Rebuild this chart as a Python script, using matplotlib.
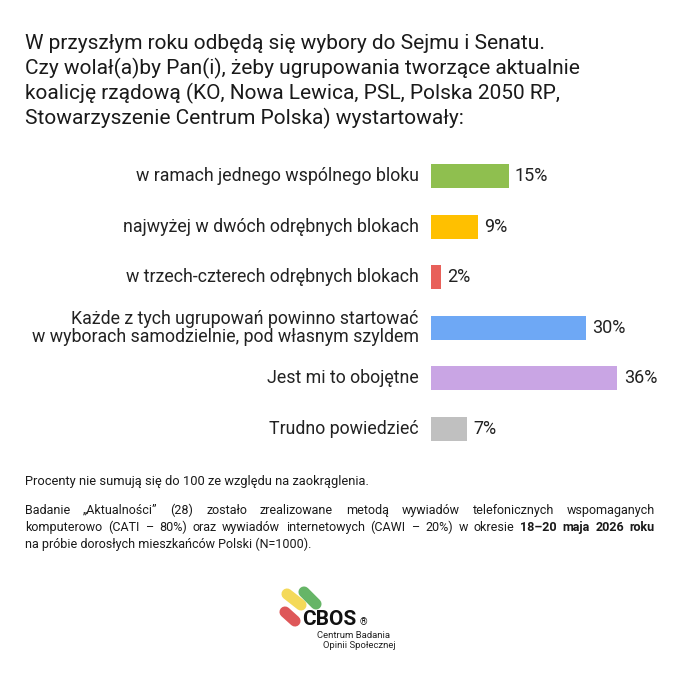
import matplotlib.pyplot as plt
import numpy as np

plt.rcParams['font.family'] = ['Roboto', 'DejaVu Sans']

title_lines = [
    "W przyszłym roku odbędą się wybory do Sejmu i Senatu.",
    "Czy wolał(a)by Pan(i), żeby ugrupowania tworzące aktualnie",
    "koalicję rządową (KO, Nowa Lewica, PSL, Polska 2050 RP,",
    "Stowarzyszenie Centrum Polska) wystartowały:",
]
categories = [
    "w ramach jednego wspólnego bloku",
    "najwyżej w dwóch odrębnych blokach",
    "w trzech-czterech odrębnych blokach",
    "Każde z tych ugrupowań powinno startować\nw wyborach samodzielnie, pod własnym szyldem",
    "Jest mi to obojętne",
    "Trudno powiedzieć",
]
values = [15, 9, 2, 30, 36, 7]
colors = ["#8fbf4f", "#ffc000", "#e8605a", "#6ea8f5", "#c9a5e4", "#c0c0c0"]

note = "Procenty nie sumują się do 100 ze względu na zaokrąglenia."
method_lines = [
    "Badanie „Aktualności” (28) zostało zrealizowane metodą wywiadów telefonicznych wspomaganych",
    "komputerowo (CATI – 80%) oraz wywiadów internetowych (CAWI – 20%) w okresie",
    "na próbie dorosłych mieszkańców Polski (N=1000).",
]
method_bold = "18–20 maja 2026 roku"

W, H = 680, 679
fig = plt.figure(figsize=(W / 100, H / 100), dpi=100)
fig.patch.set_facecolor("white")

# bar axes in pixel coordinates: x 431 = 0%, 5.18 px per %
x0_px = 431
px_per = 5.18
ax_w = 40 * px_per
y_top, y_bot = 151, 454
ax = fig.add_axes([x0_px / W, 1 - y_bot / H, ax_w / W, (y_bot - y_top) / H])
y = np.arange(len(values))
ax.barh(y, values, height=0.48, color=colors)
ax.set_xlim(0, 40)
ax.set_ylim(len(values) - 0.5, -0.5)
ax.axis("off")
for yi, v, lab in zip(y, values, categories):
    ax.text(v + 1.2, yi, f"{v}%", va="center", ha="left", fontsize=13, color="#222222")
    ax.text(-2.4, yi, lab, va="center", ha="right", fontsize=12.8, color="#222222",
            linespacing=1.0)


def px(x, y):
    return x / W, 1 - y / H


for i, line in enumerate(title_lines):
    fig.text(*px(25, 49 + i * 25), line, fontsize=15, color="#1a1a1a", va="baseline")

fig.text(*px(25, 485), note, fontsize=9.3, color="#1a1a1a", va="baseline")

# justified method text
fig.canvas.draw()
renderer = fig.canvas.get_renderer()
left, right = 25, 655


def word_width(w, weight):
    t = fig.text(0, 0, w, fontsize=9, fontweight=weight)
    wd = t.get_window_extent(renderer).width
    t.remove()
    return wd


def justify(words, weights, ybase):
    ws = [word_width(w, wt) for w, wt in zip(words, weights)]
    gap = (right - left - sum(ws)) / (len(words) - 1)
    x = left
    for w, wt, wd in zip(words, weights, ws):
        fig.text(*px(x, ybase), w, fontsize=9, fontweight=wt, color="#1a1a1a", va="baseline")
        x += wd + gap


w1 = method_lines[0].split()
justify(w1, ["normal"] * len(w1), 514)
w2a = method_lines[1].split()
w2b = method_bold.split()
justify(w2a + w2b, ["normal"] * len(w2a) + ["bold"] * len(w2b), 531)
fig.text(*px(25, 548), method_lines[2], fontsize=9, color="#1a1a1a", va="baseline")

# CBOS logo
lax = fig.add_axes([0, 0, 1, 1], facecolor="none")
lax.set_xlim(0, W)
lax.set_ylim(H, 0)
lax.axis("off")
pills = [((287, 594), (301, 605), "#f3d33c"),
         ((304, 592), (316, 604), "#4ba84c"),
         ((285, 612), (295, 621), "#d93a3c")]
for (xa, ya), (xb, yb), c in pills:
    lax.plot([xa, xb], [ya, yb], color=c, lw=8, solid_capstyle="round", alpha=0.85)
lax.text(302, 625, "CBOS", fontsize=15, fontweight="bold", color="#111111", va="baseline")
lax.text(360, 625, "®", fontsize=7, color="#111111", va="baseline")
lax.text(317, 638, "Centrum Badania", fontsize=6.8, color="#222222", va="baseline")
lax.text(323, 648, "Opinii Społecznej", fontsize=6.8, color="#222222", va="baseline")

fig.savefig("out.png", dpi=100)
